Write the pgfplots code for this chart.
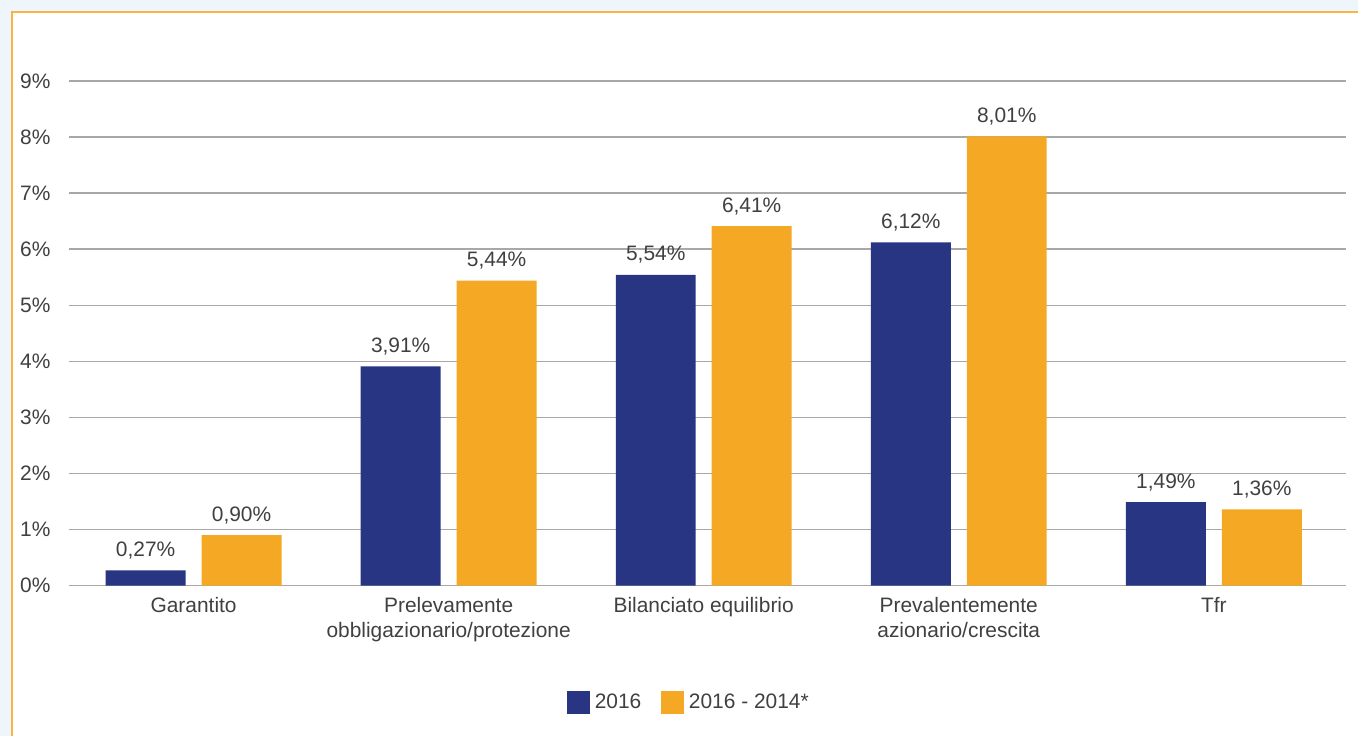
\documentclass[border=0pt]{standalone}
\usepackage{fontspec}
\setmainfont{Liberation Sans}
\usepackage{pgfplots}
\pgfplotsset{compat=1.18}
\definecolor{cblue}{HTML}{283582}
\definecolor{corange}{HTML}{F5A823}
\definecolor{bgblue}{HTML}{EFF6FB}
\definecolor{frameor}{HTML}{FBB441}
\definecolor{txt}{HTML}{404040}
\definecolor{gridc}{HTML}{A8A8A8}
\begin{document}
\begin{tikzpicture}[x=0.75pt,y=0.75pt]
\fill[bgblue] (0,0) rectangle (1359,737);
\fill[white] (12,0) rectangle (1359,725);
\draw[frameor, line width=1.5pt] (12.5,0) -- (12.5,724.5) -- (1359,724.5);
\useasboundingbox (0,0) rectangle (1359,737);
\begin{axis}[
  at={(51.5pt,113.25pt)}, anchor=south west,
  scale only axis, width=958.5pt, height=378.75pt,
  xmin=-0.49, xmax=4.517, ymin=0, ymax=9,
  ybar=12pt, bar width=60pt,
  axis line style={draw=none},
  major tick length=0pt,
  ymajorgrids, grid style={gridc, line width=1pt},
  ytick={0,1,...,9},
  yticklabel={\pgfmathprintnumber{\tick}\%},
  /pgf/number format/assume math mode=true,
  yticklabel style={anchor=east, inner sep=0pt, xshift=-13.5pt, text=txt, font=\fontsize{15.7}{18}\selectfont},
  xtick={0,1,2,3,4},
  xticklabels={Garantito, Prelevamente\\obbligazionario/protezione, Bilanciato equilibrio, Prevalentemente\\azionario/crescita, Tfr},
  xticklabel style={anchor=north, inner sep=0pt, yshift=-9pt, align=center, text=txt, font=\fontsize{15.7}{18.75}\selectfont},
  nodes near coords={\pgfmathprintnumber[fixed, fixed zerofill, precision=2, use comma, assume math mode=true]{\pgfplotspointmeta}\%},
  nodes near coords style={text=txt, font=\fontsize{15.7}{18}\selectfont, inner sep=0pt, yshift=10.5pt, anchor=base},
  legend columns=2,
  legend style={at={(0.486,-0.232)}, anchor=center, draw=none, fill=none, text=txt, font=\fontsize{15.7}{18}\selectfont,
    /tikz/every odd column/.append style={column sep=1.5pt},
    /tikz/every even column/.append style={column sep=13pt}},
  legend image code/.code={\fill[#1] (0pt,-8.6pt) rectangle (17.25pt,8.6pt);},
]
\addplot[fill=cblue, draw=none] coordinates {(0,0.27) (1,3.91) (2,5.54) (3,6.12) (4,1.49)};
\addplot[fill=corange, draw=none] coordinates {(0,0.90) (1,5.44) (2,6.41) (3,8.01) (4,1.36)};
\legend{2016, 2016 - 2014*}
\end{axis}
\end{tikzpicture}
\end{document}
